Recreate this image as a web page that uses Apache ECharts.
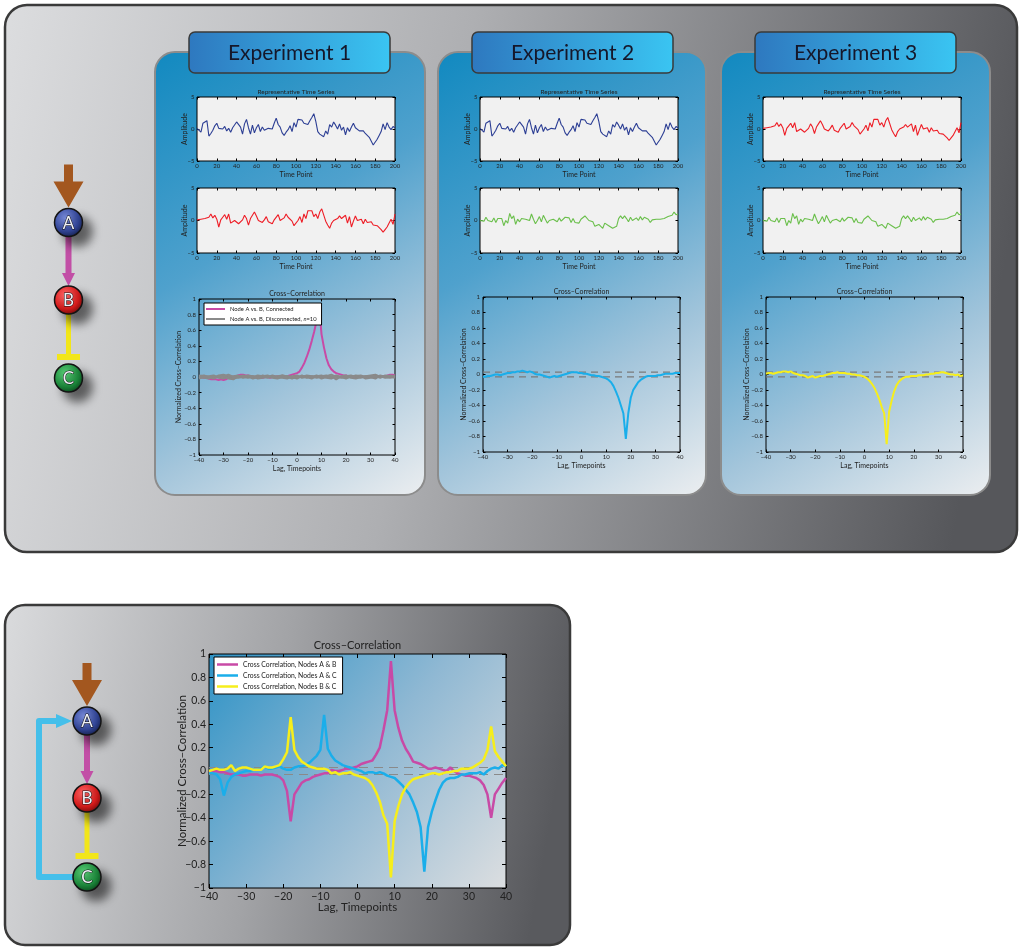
<!DOCTYPE html>
<html>
<head>
<meta charset="utf-8">
<script src="https://cdn.jsdelivr.net/npm/echarts@6/dist/echarts.min.js"></script>
<style>
  html, body { margin: 0; padding: 0; background: #fff; }
  #main { width: 1020px; height: 947px; }
</style>
</head>
<body>
<div id="main"></div>
<script type="text/javascript">
// ---- data ----
var expTitles = ['Experiment 1', 'Experiment 2', 'Experiment 3'];
var timeTicks = [0, 200, 20];
var ampTicks = [-5, 5, 5];
var lagTicks = [-40, 40, 10];
var ccTicks = [-1, 1, 0.2];
var sigLevels = [0.03, -0.03];

// time points 0,2,...,200
var timePoints = [];
for (var t = 0; t <= 200; t += 2) timePoints.push(t);
// lags -40..40
var lags = [];
for (var l = -40; l <= 40; l++) lags.push(l);
var lags2 = [];
for (var l2 = -40; l2 <= 40; l2 += 2) lags2.push(l2);

var nodeA = [0.1,0.2,-0.5,0.9,0.7,1.3,-1.1,-0.7,-0.2,0.5,
  0.9,0.1,0.3,0.0,0.4,-0.3,0.1,-0.5,0.2,0.5,
  1.1,0.8,0.3,-0.8,0.8,1.5,0.2,-0.8,0.6,-0.6,
  0.2,0.7,-0.4,0.3,-0.2,0.0,0.1,0.3,0.0,0.9,
  1.7,0.7,0.3,-0.6,-1.0,-0.5,-0.1,0.5,-0.4,1.0,
  0.3,1.5,1.2,1.4,0.9,1.2,0.7,1.3,1.8,2.4,
  1.2,-0.4,-0.8,-0.9,-1.2,-0.3,-0.8,0.7,0.3,1.1,
  0.6,0.0,0.8,-0.2,0.3,-0.9,0.2,-0.4,0.3,0.9,
  0.2,0.4,-0.3,-0.5,-0.3,-0.7,-1.0,-1.3,-1.6,-2.5,
  -2.2,-1.6,-1.0,-0.4,0.8,-0.1,1.0,0.3,-0.1,0.4,
  0.2];
var nodeB = [0.1,-0.2,0.2,-0.1,0.3,0.0,0.5,1.0,0.4,0.8,
  0.2,-1.0,0.1,0.5,0.9,0.2,1.0,-0.4,-0.3,0.0,
  -0.2,-0.5,-0.2,0.1,0.8,0.3,-0.7,0.3,0.8,1.3,
  0.7,0.0,0.3,-0.3,0.1,0.6,-0.2,0.1,-0.5,0.1,
  0.3,0.9,0.0,0.3,0.4,1.0,0.5,0.8,-0.1,-0.8,
  -0.5,0.0,0.6,-0.3,1.0,0.3,1.5,1.2,1.5,0.6,
  1.0,0.3,1.3,1.8,1.5,-0.1,-0.7,-1.2,-0.4,0.0,
  -0.3,0.3,0.7,0.3,0.6,0.8,-0.4,0.6,-1.0,-0.1,
  0.7,0.0,0.3,0.2,-0.5,0.2,-0.3,-0.6,-0.2,-0.7,
  -1.0,-0.8,-1.1,-1.4,-1.8,-1.4,-1.0,-0.7,0.2,-0.6,
  1.0];
var nodeC = [0.0,0.1,-0.1,0.5,0.0,0.2,-0.2,0.4,-0.3,0.3,
  0.0,0.3,-0.8,0.0,-0.4,1.1,0.3,0.7,-0.6,0.2,
  -0.2,0.3,0.6,0.2,0.3,0.0,1.0,0.2,-0.5,0.0,
  0.6,-0.2,0.8,0.2,-0.4,0.0,0.0,0.2,0.4,-0.2,
  0.4,-0.1,0.0,0.5,0.2,0.4,-0.3,0.3,-0.3,0.0,
  -0.4,0.2,0.0,0.7,0.6,0.0,-0.3,-0.2,-0.9,-1.0,
  -0.6,-0.7,-1.2,-0.4,-0.2,-0.8,-1.1,-1.2,-1.3,-0.9,
  0.3,0.7,0.3,0.7,0.3,-0.2,0.5,0.0,-0.2,0.4,
  0.0,0.6,0.1,0.5,0.7,0.2,-0.3,0.1,0.2,0.2,
  0.3,0.2,0.5,0.3,0.0,0.6,0.5,0.8,1.3,0.9,
  1.0];

// experiment cross-correlations (lag -40..40)
var ccExp1 = [0.0,0.0,-0.01,-0.01,-0.02,-0.03,-0.03,-0.03,-0.04,-0.03,
  -0.04,-0.03,-0.01,0.0,0.0,0.01,0.02,0.03,0.03,0.02,
  0.02,0.01,0.0,0.0,-0.01,0.0,-0.01,0.0,0.0,-0.01,
  0.0,0.0,0.01,0.0,0.0,0.01,0.01,0.02,0.03,0.04,
  0.05,0.07,0.12,0.18,0.26,0.35,0.46,0.58,0.72,0.93,
  0.55,0.38,0.24,0.15,0.1,0.07,0.05,0.04,0.03,0.02,
  0.02,0.01,0.01,0.0,0.0,0.0,0.01,0.0,0.0,0.01,
  0.0,0.0,0.01,0.0,0.0,0.01,0.01,0.02,0.03,0.03,
  0.02];
var ccExp2 = [-0.03,-0.03,-0.02,-0.02,-0.01,0.0,0.0,-0.01,0.0,0.01,
  0.02,0.02,0.03,0.03,0.04,0.04,0.05,0.04,0.03,0.04,
  0.03,0.01,0.0,0.0,-0.01,-0.02,-0.03,-0.04,-0.03,-0.02,
  -0.03,-0.02,-0.01,0.0,0.01,0.02,0.03,0.03,0.03,0.02,
  0.02,0.01,0.01,0.0,-0.01,-0.01,-0.02,-0.02,-0.03,-0.04,
  -0.05,-0.07,-0.1,-0.15,-0.22,-0.3,-0.4,-0.5,-0.83,-0.5,
  -0.3,-0.2,-0.15,-0.1,-0.07,-0.05,-0.03,-0.02,-0.02,-0.02,
  -0.02,-0.01,-0.01,0.0,0.01,0.01,0.01,0.01,0.02,0.02,
  0.02];
var ccExp3 = [0.01,0.02,0.02,0.01,0.02,0.03,0.03,0.04,0.04,0.03,
  0.04,0.02,0.01,0.0,-0.01,-0.01,-0.02,-0.04,-0.03,-0.02,
  -0.04,-0.03,-0.02,-0.02,-0.01,0.0,0.01,0.02,0.02,0.03,
  0.02,0.02,0.02,0.01,0.01,0.0,0.0,-0.01,-0.01,-0.02,
  -0.03,-0.05,-0.08,-0.12,-0.17,-0.24,-0.32,-0.42,-0.5,-0.9,
  -0.48,-0.34,-0.22,-0.14,-0.09,-0.06,-0.04,-0.03,-0.03,-0.02,
  -0.02,-0.02,-0.01,-0.01,-0.01,0.0,0.0,0.01,0.01,0.02,
  0.02,0.03,0.03,0.02,0.01,0.0,0.0,-0.01,0.0,-0.02,
  -0.01];
// disconnected controls (lag -40..40 step 2)
var ccNull = [
  [0.01,0.02,0.0,-0.01,0.02,0.03,0.01,-0.02,0.0,0.01,-0.01,0.0,0.02,0.01,-0.01,0.0,0.01,0.02,0.0,-0.02,0.01,0.0,0.02,0.01,-0.01,0.0,0.01,0.03,0.0,-0.01,0.01,0.02,0.0,-0.01,0.01,0.02,0.03,0.0,0.01,0.02,0.01],
  [-0.02,0.0,0.01,0.02,-0.01,-0.02,0.0,0.01,0.02,-0.01,0.0,0.01,-0.02,-0.01,0.0,0.02,0.0,-0.01,-0.02,0.01,0.02,-0.01,0.0,-0.02,0.01,0.02,-0.01,-0.02,0.01,0.0,-0.01,0.0,0.02,0.01,-0.02,-0.01,0.0,0.01,-0.01,0.0,0.02],
  [0.0,-0.01,-0.02,0.01,0.0,0.02,-0.02,-0.03,0.01,0.02,0.01,-0.02,0.0,0.01,0.02,-0.01,-0.02,0.0,0.01,0.0,-0.02,0.01,0.01,0.0,0.02,-0.02,0.0,0.01,-0.03,0.01,0.02,-0.01,-0.02,0.0,0.01,0.0,-0.02,0.02,0.0,-0.01,0.0],
  [0.02,0.01,0.0,-0.02,0.01,0.0,0.03,0.0,-0.01,0.0,0.02,0.01,-0.01,0.02,0.0,0.01,-0.01,0.02,0.01,0.0,-0.01,0.02,-0.01,0.01,0.0,0.01,0.02,-0.01,0.02,0.0,-0.02,0.01,0.01,0.02,0.0,0.01,0.01,-0.01,0.02,0.01,-0.01]
];

// feedback loop cross-correlations (lag -40..40)
var ccAB = [-0.01,0.0,0.0,-0.01,-0.01,-0.02,-0.03,-0.03,-0.03,-0.04,
  -0.04,-0.03,-0.03,-0.03,-0.04,-0.03,-0.03,-0.03,-0.04,-0.05,
  -0.08,-0.17,-0.43,-0.2,-0.15,-0.1,-0.08,-0.07,-0.05,-0.04,
  -0.03,-0.02,-0.02,0.01,0.0,0.0,0.01,0.02,0.02,0.03,
  0.04,0.06,0.07,0.08,0.09,0.14,0.2,0.35,0.52,0.94,
  0.52,0.37,0.26,0.19,0.14,0.08,0.07,0.06,0.04,0.02,
  0.02,0.03,0.02,0.01,0.0,0.03,0.0,-0.02,-0.03,-0.04,
  -0.04,-0.05,-0.06,-0.08,-0.12,-0.2,-0.4,-0.2,-0.15,-0.1,
  -0.06];
var ccAC = [-0.02,-0.02,-0.03,-0.07,-0.21,-0.1,-0.05,-0.03,-0.02,-0.01,
  0.0,0.0,0.01,0.01,0.02,0.04,0.02,0.02,0.03,0.04,
  0.02,0.01,0.01,0.03,0.04,0.04,0.05,0.07,0.1,0.13,
  0.18,0.48,0.19,0.13,0.09,0.07,0.05,0.04,0.03,0.02,
  0.01,0.0,-0.02,-0.01,-0.01,-0.02,-0.01,-0.02,-0.04,-0.05,
  -0.06,-0.09,-0.12,-0.16,-0.2,-0.27,-0.35,-0.48,-0.86,-0.48,
  -0.35,-0.25,-0.16,-0.1,-0.07,-0.06,-0.06,-0.05,-0.03,-0.03,
  -0.02,-0.02,-0.02,-0.01,-0.03,0.0,0.02,0.03,0.02,0.05,
  0.04];
var ccBC = [0.0,0.01,0.02,0.01,0.01,0.02,0.05,0.0,0.02,0.03,
  0.03,0.02,0.01,0.01,0.01,0.04,0.03,0.03,0.04,0.05,
  0.1,0.16,0.46,0.18,0.12,0.08,0.06,0.04,0.03,0.02,
  0.02,0.02,0.01,-0.02,-0.01,-0.03,-0.02,-0.02,-0.01,-0.03,
  -0.04,-0.05,-0.06,-0.08,-0.12,-0.18,-0.26,-0.38,-0.45,-0.91,
  -0.43,-0.3,-0.2,-0.14,-0.1,-0.07,-0.06,-0.05,-0.04,-0.03,
  -0.02,-0.02,-0.03,-0.02,-0.01,-0.01,0.0,0.0,0.02,0.02,
  0.02,0.03,0.05,0.07,0.1,0.18,0.38,0.17,0.12,0.08,
  0.04];

var legendExp1 = ['Node A vs. B, Connected', 'Node A vs. B, Disconnected, n=10'];
var legendLoop = ['Cross Correlation, Nodes A & B', 'Cross Correlation, Nodes A & C', 'Cross Correlation, Nodes B & C'];

// ---- building ----
var FONT = 'Lato, "Open Sans", sans-serif';
var TXT = '#222';
var C_BLUE = '#2c3e94', C_RED = '#ee1c25', C_GREEN = '#6abf4b';
var C_MAG = '#c84aa6', C_CYAN = '#1aaeea', C_YEL = '#f6ee1c', C_GRAY = '#8a8a8a';

var myChart = echarts.init(document.getElementById('main'));
var grids = [], xAxes = [], yAxes = [], series = [], gfx = [];

function minus(v) { return String(v).replace('-', '\u2212'); }

function addPlot(p) {
  var gi = grids.length;
  grids.push({left: p.left, top: p.top, width: p.width, height: p.height, show: true,
    borderColor: '#000', borderWidth: 1, backgroundColor: p.bg || 'transparent'});
  var tick = {inside: true, length: p.tick, lineStyle: {color: '#000', width: 1}};
  var labX = {fontSize: p.fs, color: TXT, fontFamily: FONT, margin: p.mx, formatter: minus};
  var labY = {fontSize: p.fs, color: TXT, fontFamily: FONT, margin: p.my, formatter: minus};
  var nm = {fontSize: p.nfs, color: TXT, fontFamily: FONT};
  var xi = xAxes.length, yi = yAxes.length;
  xAxes.push({type: 'value', gridIndex: gi, min: p.x[0], max: p.x[1], interval: p.x[2], position: 'bottom',
    axisLine: {show: false, onZero: false}, axisTick: tick, axisLabel: labX, splitLine: {show: false},
    name: p.xName, nameLocation: 'middle', nameGap: p.xGap, nameMoveOverlap: false, nameTextStyle: nm});
  xAxes.push({type: 'value', gridIndex: gi, min: p.x[0], max: p.x[1], interval: p.x[2], position: 'top',
    axisLine: {show: false, onZero: false}, axisTick: tick, axisLabel: {show: false}, splitLine: {show: false}});
  yAxes.push({type: 'value', gridIndex: gi, min: p.y[0], max: p.y[1], interval: p.y[2], position: 'left',
    axisLine: {show: false, onZero: false}, axisTick: tick, axisLabel: labY, splitLine: {show: false},
    name: p.yName, nameLocation: 'middle', nameGap: p.yGap, nameMoveOverlap: false, nameTextStyle: nm});
  yAxes.push({type: 'value', gridIndex: gi, min: p.y[0], max: p.y[1], interval: p.y[2], position: 'right',
    axisLine: {show: false, onZero: false}, axisTick: tick, axisLabel: {show: false}, splitLine: {show: false}});
  if (p.title) {
    gfx.push({type: 'text', z: 5, style: {text: p.title, x: p.left + p.width / 2, y: p.top - p.titleGap,
      textAlign: 'center', align: 'center', textVerticalAlign: 'bottom', verticalAlign: 'bottom',
      fill: TXT, font: p.tfs + 'px ' + FONT}});
  }
  return {x: xi, y: yi};
}

function addLine(ax, name, xs, ys, color, width, dash) {
  series.push({type: 'line', name: name, xAxisIndex: ax.x, yAxisIndex: ax.y, silent: true,
    data: xs.map(function (x, i) { return [x, ys[i]]; }),
    showSymbol: false, symbol: 'none',
    lineStyle: {color: color, width: width, type: dash || 'solid'}, itemStyle: {color: color}});
}

function tsPlot(left, top, height, title) {
  return addPlot({left: left, top: top, width: 198, height: height, x: timeTicks, y: ampTicks,
    tick: 2.5, fs: 6, mx: 2, my: 2.5, nfs: 7, xName: 'Time Point', xGap: 10, yName: 'Amplitude', yGap: 9,
    bg: '#f1f1f1', title: title, tfs: 6.5, titleGap: 2});
}
function ccPlot(left, top, width, height, yGap) {
  return addPlot({left: left, top: top, width: width, height: height, x: lagTicks, y: ccTicks,
    tick: 2.5, fs: 6, mx: 2, my: 3, nfs: 7, xName: 'Lag, Timepoints', xGap: 10,
    yName: 'Normalized Cross\u2013Correlation', yGap: yGap, title: 'Cross\u2013Correlation', tfs: 7, titleGap: 2});
}

// backgrounds
function grad(x2, y2, stops) {
  return {type: 'linear', x: 0, y: 0, x2: x2, y2: y2,
    colorStops: stops.map(function (s) { return {offset: s[0], color: s[1]}; })};
}
var panelGrad = grad(1, 0.35, [[0, '#dcdddf'], [0.45, '#aeafb2'], [1, '#56575b']]);
gfx.push({type: 'rect', z: -20, shape: {x: 5, y: 5, width: 1012, height: 547, r: 22},
  style: {fill: panelGrad, stroke: '#3a3a3a', lineWidth: 2.5}});
gfx.push({type: 'rect', z: -20, shape: {x: 5, y: 605, width: 565, height: 340, r: 20},
  style: {fill: grad(1, 0.3, [[0, '#dadbdd'], [0.5, '#a2a3a6'], [1, '#595a5e']]), stroke: '#3a3a3a', lineWidth: 2.5}});

var cardX = [155, 438, 721], cardW = [270, 268, 269];
var boxX = [189, 472, 755];
for (var k = 0; k < 3; k++) {
  gfx.push({type: 'rect', z: -15, shape: {x: cardX[k], y: 52, width: cardW[k], height: 443, r: 20},
    style: {fill: grad(1, 1, [[0, '#1189c0'], [0.4, '#4fa1cd'], [0.7, '#a3c5db'], [1, '#eceef0']]),
      stroke: '#8c8c8c', lineWidth: 2}});
  gfx.push({type: 'rect', z: -10, shape: {x: boxX[k], y: 32, width: 201, height: 41, r: 6},
    style: {fill: grad(1, 0, [[0, '#2e78bf'], [1, '#3ac5f2']]), stroke: '#3a3a3a', lineWidth: 1.5}});
  gfx.push({type: 'text', z: -9, style: {text: expTitles[k], x: boxX[k] + 100.5, y: 53,
    textAlign: 'center', align: 'center', textVerticalAlign: 'middle', verticalAlign: 'middle',
    fill: '#15172a', font: '21px ' + FONT}});
}

// experiment 1
var e1a = tsPlot(197, 97, 64, 'Representative Time Series');
var e1b = tsPlot(197, 188, 65);
var e1c = ccPlot(199, 299, 196, 156, 17);
addLine(e1a, 'A', timePoints, nodeA, C_BLUE, 1.1);
addLine(e1b, 'B', timePoints, nodeB, C_RED, 1.1);
addLine(e1c, legendExp1[0], lags, ccExp1, C_MAG, 2);
ccNull.forEach(function (arr) { addLine(e1c, legendExp1[1], lags2, arr, C_GRAY, 2); });

// experiment 2
var e2a = tsPlot(480, 97, 64, 'Representative Time Series');
var e2b = tsPlot(480, 188, 65);
var e2c = ccPlot(483, 297, 197, 155, 16);
addLine(e2a, 'A2', timePoints, nodeA, C_BLUE, 1.1);
addLine(e2b, 'C2', timePoints, nodeC, C_GREEN, 1.1);
sigLevels.forEach(function (s) { addLine(e2c, 'sig', [-40, 40], [s, s], '#7a7a7a', 1.2, [7, 5]); });
addLine(e2c, 'AC2', lags, ccExp2, C_CYAN, 2);

// experiment 3
var e3a = tsPlot(763, 97, 64, 'Representative Time Series');
var e3b = tsPlot(763, 188, 65);
var e3c = ccPlot(766, 297, 197, 155, 16);
addLine(e3a, 'B3', timePoints, nodeB, C_RED, 1.1);
addLine(e3b, 'C3', timePoints, nodeC, C_GREEN, 1.1);
sigLevels.forEach(function (s) { addLine(e3c, 'sig', [-40, 40], [s, s], '#7a7a7a', 1.2, [7, 5]); });
addLine(e3c, 'BC3', lags, ccExp3, C_YEL, 2);

// feedback loop plot
var fb = addPlot({left: 209, top: 654, width: 297, height: 234, x: lagTicks, y: ccTicks,
  tick: 4, fs: 10.5, mx: 3, my: 3, nfs: 11.5, xName: 'Lag, Timepoints', xGap: 13,
  yName: 'Normalized Cross\u2013Correlation', yGap: 21, title: 'Cross\u2013Correlation', tfs: 11, titleGap: 3,
  bg: grad(1, 1, [[0, '#2f93c6'], [0.5, '#8fb8d3'], [1, '#dcdee0']])});
sigLevels.forEach(function (s) { addLine(fb, 'sig', [-40, 40], [s, s], '#8a8a8a', 1.2, [9, 6]); });
addLine(fb, legendLoop[0], lags, ccAB, C_MAG, 2.5);
addLine(fb, legendLoop[1], lags, ccAC, C_CYAN, 2.5);
addLine(fb, legendLoop[2], lags, ccBC, C_YEL, 2.5);

// network diagrams
function sphere(cx, cy, letter, c0, c1, c2) {
  gfx.push({type: 'circle', z: 10, shape: {cx: cx, cy: cy, r: 14},
    style: {fill: {type: 'radial', x: 0.4, y: 0.35, r: 0.75,
      colorStops: [{offset: 0, color: c0}, {offset: 0.6, color: c1}, {offset: 1, color: c2}]},
      stroke: '#141414', lineWidth: 1.5,
      shadowBlur: 10, shadowOffsetX: 9, shadowOffsetY: 9, shadowColor: 'rgba(0,0,0,0.55)'}});
  gfx.push({type: 'text', z: 11, style: {text: letter, x: cx, y: cy + 1,
    textAlign: 'center', align: 'center', textVerticalAlign: 'middle', verticalAlign: 'middle',
    fill: '#eef0f6', stroke: '#111', lineWidth: 1, font: '17px ' + FONT}});
}
function network(cx, a, b, c, loop) {
  var top = a - 58;
  gfx.push({type: 'polygon', z: 10, shape: {points: [[cx - 4.5, top], [cx + 4.5, top], [cx + 4.5, a - 41],
    [cx + 15, a - 41], [cx, a - 15], [cx - 15, a - 41], [cx - 4.5, a - 41]]}, style: {fill: '#a3571f'}});
  gfx.push({type: 'polygon', z: 10, shape: {points: [[cx - 3, a + 14], [cx + 3, a + 14], [cx + 3, b - 27],
    [cx + 6.5, b - 27], [cx, b - 14], [cx - 6.5, b - 27], [cx - 3, b - 27]]}, style: {fill: '#c24fa6'}});
  gfx.push({type: 'rect', z: 10, shape: {x: cx - 2.5, y: b + 14, width: 5, height: c - 21 - b - 14},
    style: {fill: '#f2e61a'}});
  gfx.push({type: 'rect', z: 10, shape: {x: cx - 11.5, y: c - 24, width: 23, height: 6}, style: {fill: '#f2e61a'}});
  if (loop) {
    gfx.push({type: 'polyline', z: 9, shape: {points: [[cx - 12, c], [39, c], [39, a], [58, a]]},
      style: {stroke: '#45bfea', lineWidth: 6, lineJoin: 'round', fill: null}});
    gfx.push({type: 'polygon', z: 9, shape: {points: [[56, a - 7], [72, a], [56, a + 7]]}, style: {fill: '#45bfea'}});
  }
  sphere(cx, a, 'A', '#7b8ede', '#33479b', '#0e1638');
  sphere(cx, b, 'B', '#ff6a6a', '#dc1c1c', '#560707');
  sphere(cx, c, 'C', '#5cd27a', '#1d8c3d', '#083616');
}
network(68.5, 222.5, 300, 378, false);
network(87, 721, 798, 877, true);

var option = {
  animation: false,
  backgroundColor: '#ffffff',
  textStyle: {fontFamily: FONT},
  grid: grids,
  xAxis: xAxes,
  yAxis: yAxes,
  legend: [{
    left: 204, top: 303, orient: 'vertical', selectedMode: false,
    backgroundColor: '#fff', borderColor: '#000', borderWidth: 1, padding: [3, 5, 3, 2],
    itemGap: 4, itemWidth: 19, itemHeight: 2, icon: 'rect',
    data: legendExp1,
    formatter: function (n) {
      return n.indexOf('n=10') >= 0 ? '{t|Node A vs. B, Disconnected, }{i|n}{t|=10}' : '{t|' + n + '}';
    },
    textStyle: {fontSize: 5.8, color: TXT, fontFamily: FONT,
      rich: {t: {fontSize: 5.8, color: TXT, fontFamily: FONT}, i: {fontSize: 5.8, color: TXT, fontStyle: 'italic', fontFamily: FONT}}}
  }, {
    left: 214, top: 657, orient: 'vertical', selectedMode: false,
    backgroundColor: '#fff', borderColor: '#000', borderWidth: 1, padding: [4, 6, 4, 3],
    itemGap: 4, itemWidth: 21, itemHeight: 2.5, icon: 'rect',
    data: legendLoop,
    textStyle: {fontSize: 6.8, color: TXT, fontFamily: FONT}
  }],
  graphic: {elements: gfx},
  series: series
};
myChart.setOption(option);
</script>
</body>
</html>
